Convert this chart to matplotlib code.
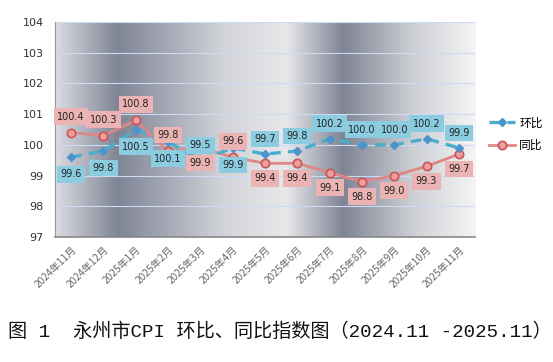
import numpy as np
import matplotlib
matplotlib.use("Agg")
import matplotlib.pyplot as plt
from matplotlib.colors import LinearSegmentedColormap

plt.rcParams['font.family'] = ['Noto Sans CJK SC', 'DejaVu Sans']

months = ["2024年11月", "2024年12月", "2025年1月", "2025年2月", "2025年3月", "2025年4月",
          "2025年5月", "2025年6月", "2025年7月", "2025年8月", "2025年9月", "2025年10月", "2025年11月"]
huanbi = [99.6, 99.8, 100.5, 100.1, 99.5, 99.9, 99.7, 99.8, 100.2, 100.0, 100.0, 100.2, 99.9]
tongbi = [100.4, 100.3, 100.8, 99.8, 99.9, 99.6, 99.4, 99.4, 99.1, 98.8, 99.0, 99.3, 99.7]
# label placement: +1 above, -1 below
huanbi_pos = [-1, -1, -1, -1, 1, -1, 1, 1, 1, 1, 1, 1, 1]
tongbi_pos = [1, 1, 1, 1, -1, 1, -1, -1, -1, -1, -1, -1, -1]
yticks = [97, 98, 99, 100, 101, 102, 103, 104]

W, H = 553, 362
fig = plt.figure(figsize=(W / 100, H / 100), dpi=100)
ax = fig.add_axes([55 / W, 1 - 237 / H, 420 / W, 215 / H])

# gradient background
cmap = LinearSegmentedColormap.from_list("bg", [
    (0.0, (0.86, 0.86, 0.88)),
    (0.148, (0.50, 0.52, 0.59)),
    (0.40, (0.82, 0.83, 0.85)),
    (0.55, (0.91, 0.91, 0.92)),
    (0.685, (0.50, 0.52, 0.59)),
    (0.85, (0.80, 0.81, 0.83)),
    (1.0, (0.96, 0.96, 0.96)),
])
grad = np.linspace(0, 1, 512).reshape(1, -1)
ax.imshow(grad, cmap=cmap, aspect='auto', extent=[0, 1, 0, 1],
          transform=ax.transAxes, zorder=0, interpolation='bilinear')

x = np.arange(len(months))
ax.set_xlim(-0.5, len(months) - 0.5)
ax.set_ylim(97, 104)
ax.set_yticks(yticks)
for yv in yticks[1:]:
    ax.axhline(yv, color=(0.80, 0.86, 0.95), lw=0.8, zorder=1)

blue = (0.29, 0.68, 0.80)
red = (0.87, 0.53, 0.53)
ax.plot(x, huanbi, color=blue, lw=2.4, ls=(0, (3.2, 2.2)), marker='D', ms=4.5,
        mfc=(0.30, 0.58, 0.80), mec=(0.30, 0.58, 0.80), zorder=4, label='环比')
ax.plot(x, tongbi, color=red, lw=2.0, marker='o', ms=6,
        mfc=(0.93, 0.62, 0.62), mec=(0.80, 0.33, 0.33), mew=1.2, zorder=3, label='同比')

for xi, v, p in zip(x, huanbi, huanbi_pos):
    off = 15 if p > 0 else -17
    ax.annotate(f"{v:.1f}", (xi, v), xytext=(0, off * 0.72), textcoords='offset points',
                ha='center', va='center', fontsize=7, color='#222222', family='DejaVu Sans',
                bbox=dict(boxstyle='square,pad=0.35', fc=(0.55, 0.80, 0.88), ec='none'), zorder=6)
for xi, v, p in zip(x, tongbi, tongbi_pos):
    off = 16 if p > 0 else -15
    ax.annotate(f"{v:.1f}", (xi, v), xytext=(0, off * 0.72), textcoords='offset points',
                ha='center', va='center', fontsize=7, color='#222222', family='DejaVu Sans',
                bbox=dict(boxstyle='square,pad=0.35', fc=(0.92, 0.70, 0.70), ec='none'), zorder=6)

ax.set_xticks(x)
ax.set_xticklabels(months, rotation=45, ha='right', rotation_mode='anchor',
                   fontsize=7.3, color='#666666')
ax.tick_params(axis='x', length=0, pad=5)
ax.tick_params(axis='y', length=0, pad=8, labelsize=8, labelcolor='#333333')
for lab in ax.get_yticklabels():
    lab.set_family('DejaVu Sans')
for s in ['top', 'right']:
    ax.spines[s].set_visible(False)
ax.spines['left'].set_color('#999999')
ax.spines['bottom'].set_color('#888888')
ax.spines['bottom'].set_linewidth(1.2)

leg = fig.legend(loc='upper left', bbox_to_anchor=(478 / W, 1 - 106 / H), frameon=False,
                 fontsize=8.5, handlelength=2.2, labelspacing=0.8, handletextpad=0.4)

fig.text(8 / W, 1 - 332 / H, "图 1  永州市CPI 环比、同比指数图（2024.11 -2025.11）",
         ha='left', va='center', fontsize=13.8, color='#111111',
         family=['Liberation Mono', 'Noto Sans CJK SC'])

fig.savefig("out.png", dpi=100)
